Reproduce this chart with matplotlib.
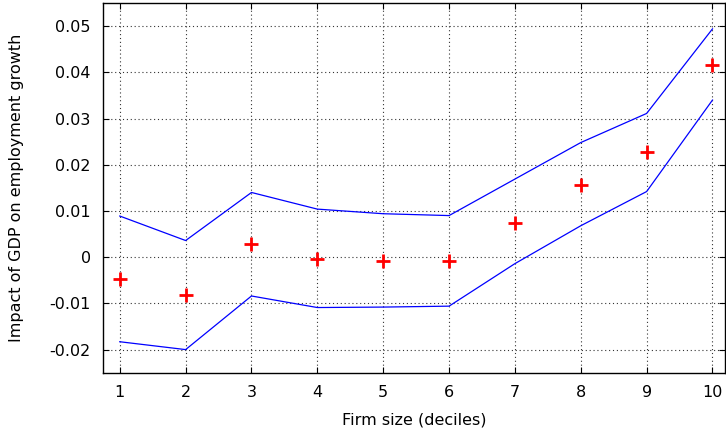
import matplotlib
matplotlib.use("Agg")
import matplotlib.pyplot as plt

deciles = [1, 2, 3, 4, 5, 6, 7, 8, 9, 10]
estimate = [-0.0047, -0.0082, 0.0028, -0.0004, -0.0008, -0.0009, 0.0075, 0.0157, 0.0227, 0.0416]
upper = [0.0089, 0.0036, 0.0140, 0.0104, 0.0094, 0.0090, 0.0169, 0.0248, 0.0311, 0.0494]
lower = [-0.0183, -0.0200, -0.0084, -0.0109, -0.0108, -0.0106, -0.0014, 0.0068, 0.0142, 0.0340]

yticks = [-0.02, -0.01, 0, 0.01, 0.02, 0.03, 0.04, 0.05]
ylabels = ["-0.02", "-0.01", "0", "0.01", "0.02", "0.03", "0.04", "0.05"]

plt.rcParams['font.family'] = 'DejaVu Sans'
plt.rcParams['font.size'] = 11.5

fig = plt.figure(figsize=(7.26, 4.34), dpi=100)
ax = fig.add_axes([103.3 / 726, 1 - 372.7 / 434, (725 - 103.3) / 726, (372.7 - 3) / 434])

ax.plot(deciles, upper, color='blue', lw=0.9)
ax.plot(deciles, lower, color='blue', lw=0.9)
ax.plot(deciles, estimate, ls='none', marker='+', color='red', ms=10.5, mew=2)

ax.set_xlim(0.75, 10.19)
ax.set_ylim(-0.025, 0.055)
ax.set_xticks(deciles)
ax.set_yticks(yticks)
ax.set_yticklabels(ylabels)

ax.grid(True, color='#333333', ls=(0, (1, 2.5)), lw=0.8)
ax.tick_params(direction='in', length=4, width=0.8, top=True, right=True, pad=9)
for s in ax.spines.values():
    s.set_linewidth(1)

ax.set_xlabel('Firm size (deciles)', labelpad=9)
ax.set_ylabel('Impact of GDP on employment growth', labelpad=18)

fig.savefig('out.png', dpi=100)
